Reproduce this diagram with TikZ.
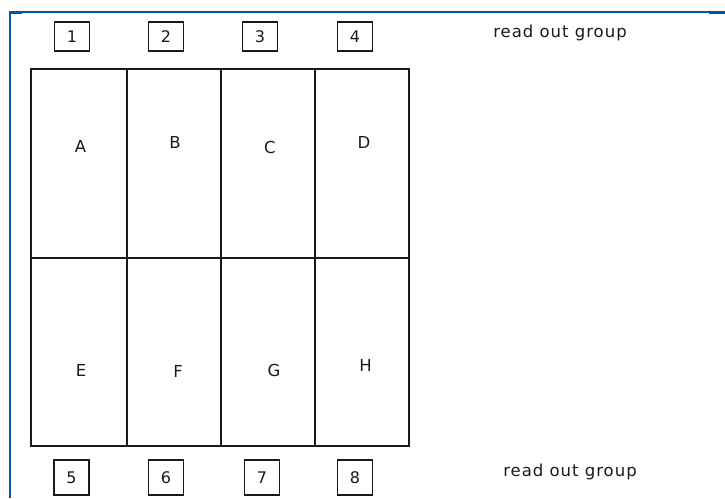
\documentclass[tikz,border=0pt]{standalone}
\usepackage{fontspec}
\setmainfont{DejaVu Sans}
\newfontfamily\capfont[LetterSpace=6]{DejaVu Sans}
\definecolor{frameblue}{HTML}{0055AA}
\definecolor{ink}{HTML}{1A1A1A}
\begin{document}
\begin{tikzpicture}[x=1pt,y=-1pt,
  gridline/.style={draw=ink, line width=1.5pt},
  numbox/.style={draw=ink, line width=1.4pt, minimum width=35pt, inner sep=0pt,
    text=ink, font=\fontsize{16}{16}\selectfont},
  topbox/.style={numbox, minimum height=29pt},
  botbox/.style={numbox, minimum height=35pt},
  lbl/.style={text=ink, anchor=base, inner sep=0pt, font=\fontsize{16.5}{16.5}\selectfont},
  caption/.style={text=ink, inner sep=0pt, font=\capfont\fontsize{16.5}{16.5}\selectfont},
  framel/.style={draw=frameblue, line width=2pt},
  framethick/.style={draw=frameblue, line width=3pt}]
\useasboundingbox (0,0) rectangle (725,498);
% blue frame
\draw[framel] (9.5,498) -- (9.5,11.5) -- (725,11.5);
\draw[framethick] (8.5,12.3) -- (22,12.3);
\draw[framethick] (709,12.3) -- (725,12.3);
% grid
\draw[gridline] (31,69) rectangle (409,446);
\draw[gridline] (31,258) -- (409,258);
\draw[gridline] (127,69) -- (127,446);
\draw[gridline] (221,69) -- (221,446);
\draw[gridline] (315,69) -- (315,446);
% cell labels
\node[lbl] (A) at (80.5,152) {A};
\node[lbl] (B) at (175,148) {B};
\node[lbl] (C) at (270,153) {C};
\node[lbl] (D) at (364,148) {D};
\node[lbl] (E) at (81,376) {E};
\node[lbl] (F) at (178,377) {F};
\node[lbl] (G) at (274,376) {G};
\node[lbl] (H) at (365.5,371) {H};
% read out groups
\node[topbox] (n1) at (72,36.5) {1};
\node[topbox] (n2) at (166,36.5) {2};
\node[topbox] (n3) at (260,36.5) {3};
\node[topbox] (n4) at (355,36.5) {4};
\node[botbox] (n5) at (71.5,477.5) {5};
\node[botbox] (n6) at (166,477.5) {6};
\node[botbox] (n7) at (262,477.5) {7};
\node[botbox] (n8) at (355,477.5) {8};
\node[caption] (captop) at (560,33) {read out group};
\node[caption] (capbot) at (570,472) {read out group};
\end{tikzpicture}
\end{document}
